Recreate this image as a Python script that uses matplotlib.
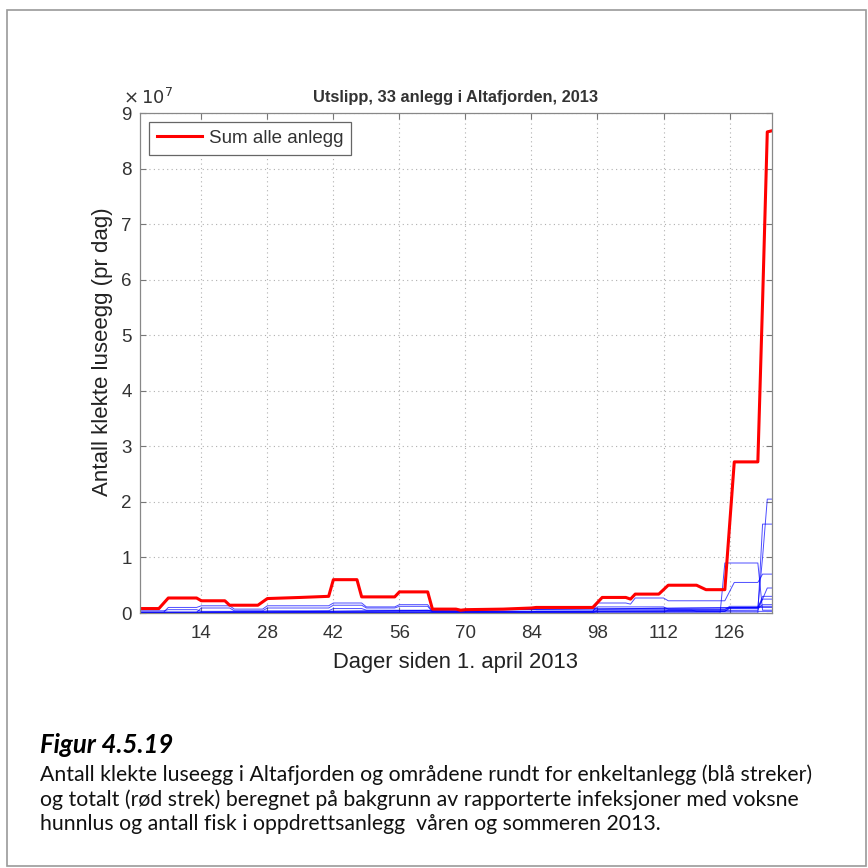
import numpy as np
from matplotlib import pyplot as plt
from matplotlib.lines import Line2D

# values in units of 10^7 eggs per day, x = days since 1 April 2013
days_xlim = (1, 135)
x_ticks = [14, 28, 42, 56, 70, 84, 98, 112, 126]
y_ticks = [0, 1, 2, 3, 4, 5, 6, 7, 8, 9]

# red: sum of all farms (polyline vertices)
sum_days = [1, 5, 7, 13, 14, 19, 20, 26, 28, 35, 41, 42, 47, 48, 55, 56, 62, 63,
            68, 69, 70, 78, 84, 85, 97, 99, 104, 105, 106, 111, 113, 119, 121,
            125, 127, 132, 133, 134, 135]
sum_vals = [0.08, 0.08, 0.27, 0.27, 0.22, 0.22, 0.14, 0.14, 0.26, 0.28, 0.30, 0.60,
            0.60, 0.29, 0.29, 0.38, 0.38, 0.07, 0.07, 0.05, 0.06, 0.07, 0.09, 0.10,
            0.10, 0.28, 0.28, 0.25, 0.34, 0.34, 0.50, 0.50, 0.42, 0.42, 2.72, 2.72,
            5.60, 8.66, 8.68]

# blue: single farms, (day, value) vertices
farm_a = [(1, 0.02), (62, 0.02), (63, 0.01), (97, 0.01), (98, 0.03), (135, 0.03)]
farm_b = [(1, 0.04), (6, 0.04), (7, 0.06), (13, 0.06), (14, 0.03), (27, 0.03),
          (28, 0.04), (41, 0.04), (42, 0.08), (48, 0.08), (49, 0.05), (62, 0.05),
          (63, 0.02), (112, 0.02), (113, 0.05), (118, 0.05), (119, 0.03),
          (125, 0.03), (126, 0.10), (135, 0.10)]
farm_c = [(1, 0.01), (6, 0.01), (7, 0.10), (13, 0.10), (14, 0.13), (20, 0.13),
          (21, 0.07), (27, 0.07), (28, 0.13), (41, 0.13), (42, 0.18), (48, 0.18),
          (49, 0.11), (55, 0.11), (56, 0.15), (62, 0.15), (63, 0.03), (97, 0.03),
          (98, 0.11), (112, 0.11), (113, 0.07), (125, 0.07), (126, 0.09),
          (132, 0.09), (133, 0.30), (135, 0.30)]
farm_d = [(1, 0.01), (13, 0.01), (14, 0.09), (20, 0.09), (21, 0.04), (27, 0.04),
          (28, 0.09), (41, 0.09), (42, 0.14), (48, 0.14), (49, 0.09), (55, 0.09),
          (56, 0.12), (62, 0.12), (63, 0.02), (97, 0.02), (98, 0.18), (104, 0.18),
          (105, 0.16), (106, 0.27), (112, 0.27), (113, 0.22), (125, 0.22),
          (127, 0.55), (132, 0.55), (133, 0.70), (135, 0.70)]
farm_e = [(1, 0.0), (124, 0.0), (125, 0.90), (132, 0.90), (133, 0.05), (135, 0.05)]
farm_f = [(1, 0.0), (132, 0.0), (133, 1.60), (135, 1.60)]
farm_g = [(1, 0.0), (132, 0.10), (133, 1.00), (134, 2.05), (135, 2.05)]
farm_h = [(1, 0.0), (132, 0.05), (134, 0.45), (135, 0.45)]
farm_i = [(1, 0.0), (132, 0.10), (133, 0.25), (135, 0.25)]
farm_j = [(1, 0.0), (97, 0.0), (98, 0.06), (125, 0.06), (126, 0.12), (135, 0.12)]
farm_k = [(1, 0.01), (84, 0.01), (85, 0.03), (125, 0.03), (126, 0.08), (132, 0.08),
          (133, 0.15), (135, 0.15)]
farm_l = [(1, 0.0), (135, 0.0)]
farms = [farm_a, farm_b, farm_c, farm_d, farm_e, farm_f, farm_g, farm_h,
         farm_i, farm_j, farm_k, farm_l]

title = 'Utslipp, 33 anlegg i Altafjorden, 2013'
xlabel = 'Dager siden 1. april 2013'
ylabel = 'Antall klekte luseegg (pr dag)'
legend_label = 'Sum alle anlegg'
fig_title = 'Figur 4.5.19'
caption = ['Antall klekte luseegg i Altafjorden og områdene rundt for enkeltanlegg (blå streker)',
           'og totalt (rød strek) beregnet på bakgrunn av rapporterte infeksjoner med voksne',
           'hunnlus og antall fisk i oppdrettsanlegg  våren og sommeren 2013.']

plt.rcParams['font.family'] = ['Liberation Sans', 'DejaVu Sans']
fig = plt.figure(figsize=(8.68, 8.68), dpi=100)
W, H = 868.0, 868.0

# outer frame of the page figure
frame = plt.Rectangle((7 / W, 0.002), 859 / W, 1 - 10 / H - 0.002,
                      transform=fig.transFigure, fill=False,
                      edgecolor='#9a9a9a', lw=1.2)
fig.add_artist(frame)

ax = fig.add_axes([140 / W, 1 - 613 / H, 632 / W, 500 / H])
gray = '#333333'

for f in farms:
    d = [p[0] for p in f]
    v = [p[1] for p in f]
    ax.plot(d, v, color='#0000ff', lw=0.7, alpha=0.7)
ax.plot(sum_days, sum_vals, color='#ff0000', lw=2.2, solid_joinstyle='round')

ax.set_xlim(days_xlim)
ax.set_ylim(0, 9)
ax.set_xticks(x_ticks)
ax.set_yticks(y_ticks)
ax.grid(True, linestyle=(0, (1, 3)), color='#b0b0b0', lw=0.8)
ax.tick_params(direction='in', top=True, right=True, length=4, width=0.8,
               colors='#777777', labelcolor=gray, labelsize=13.5)
ax.tick_params(axis='x', pad=9)
ax.tick_params(axis='y', pad=6)
for s in ax.spines.values():
    s.set_color('#888888')
    s.set_linewidth(0.9)

ax.set_title(title, fontsize=11.8, fontweight='bold', color=gray, pad=8)
ax.set_xlabel(xlabel, fontsize=15.8, color='#222222', labelpad=7)
ax.set_ylabel(ylabel, fontsize=16, color='#222222')
ax.yaxis.set_label_coords(-0.042, 0.522)
ax.text(-0.027, 1.01, r'$\times\,10^{7}$', transform=ax.transAxes,
        fontsize=13, color=gray, ha='left', va='bottom')

h = Line2D([], [], color='#ff0000', lw=2.2)
leg = ax.legend([h], [legend_label], loc='upper left', fontsize=13.5,
                fancybox=False, framealpha=1, edgecolor='#666666',
                handlelength=2.4, borderaxespad=0.5, borderpad=0.4,
                handletextpad=0.4)
leg.get_frame().set_linewidth(0.9)
for t in leg.get_texts():
    t.set_color(gray)

fig.text(40 / W, 1 - 745 / H, fig_title, fontsize=18.5, fontweight='bold',
         style='italic', family=['Lato', 'DejaVu Sans'], va='center')
for i, line in enumerate(caption):
    fig.text(40 / W, 1 - (775 + 24.5 * i) / H, line, fontsize=15.3,
             family=['Lato', 'DejaVu Sans'], va='center', color='#111111')

fig.savefig('out.png', dpi=100)
